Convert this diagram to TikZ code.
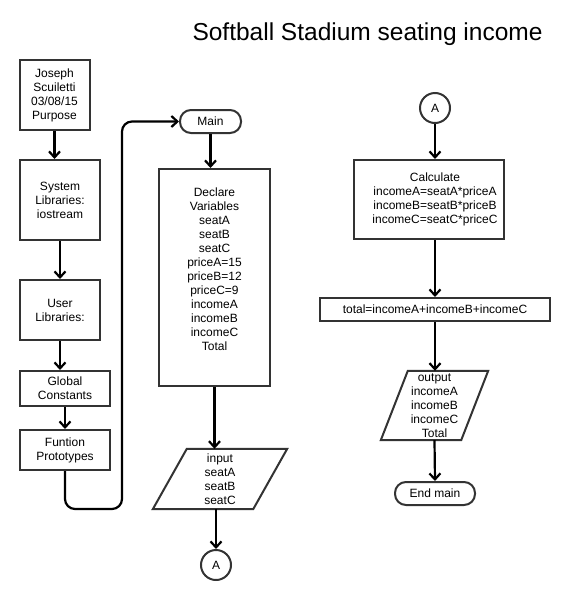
\documentclass[tikz,border=0pt]{standalone}
\usepackage{fontspec}
\setmainfont{Liberation Sans}
\usetikzlibrary{arrows.meta}
\definecolor{boxline}{HTML}{333333}
\begin{document}
\begin{tikzpicture}[x=1pt,y=-1pt,
  boxfont/.style={font=\fontsize{12}{14}\selectfont},
  procbox/.style={draw=boxline, line width=2pt, rectangle, inner sep=0pt, align=center, boxfont},
  termbox/.style={procbox, rounded corners=11pt},
  iotext/.style={rectangle, inner sep=0pt, align=center, boxfont},
  iobox/.style={draw=boxline, line width=2pt, line join=miter},
  connbox/.style={circle, draw=boxline, line width=2pt, minimum size=30pt, inner sep=0pt, boxfont},
  flow/.style={line width=2.2pt, -{Straight Barb[length=6pt,width=11pt]}}
]
\useasboundingbox (0,0) rectangle (583,600);

% title
\node[anchor=base, inner sep=0pt, font=\fontsize{24.5}{29}\selectfont] (title) at (367.5,40) {Softball Stadium seating income};

% left column
\node[procbox, minimum width=70pt, minimum height=70pt] (jos) at (54.5,95) {Joseph\\Scuiletti\\03/08/15\\Purpose};
\node[procbox, minimum width=80pt, minimum height=80pt] (sys) at (60,200) {System\\Libraries:\\iostream};
\node[procbox, minimum width=80pt, minimum height=60pt] (usr) at (60,310) {User\\Libraries:};
\node[procbox, minimum width=90pt, minimum height=35pt] (glob) at (65,388.5) {Global\\Constants};
\node[procbox, minimum width=90pt, minimum height=40pt] (fun) at (65,450) {Funtion\\Prototypes};

% middle column
\node[termbox, minimum width=61pt, minimum height=23pt] (main) at (210.5,121.5) {Main};
\node[procbox, minimum width=111pt, minimum height=217pt] (decl) at (214.5,277.5)
  {\begin{tabular}{@{}c@{}}Declare\\Variables\\seatA\\seatB\\seatC\\priceA=15\\priceB=12\\priceC=9\\incomeA\\incomeB\\incomeC\\Total\\[13pt]\end{tabular}};
\node[iotext, minimum width=100pt, minimum height=60pt] (inp) at (220,479) {input\\seatA\\seatB\\seatC};
\draw[iobox] ([xshift=17pt]inp.north west) -- ([xshift=17pt]inp.north east)
  -- ([xshift=-17pt]inp.south east) -- ([xshift=-17pt]inp.south west) -- cycle;
\node[connbox] (a1) at (216,565) {A};

% right column
\node[connbox] (a2) at (435,108) {A};
\node[procbox, minimum width=150pt, minimum height=79pt] (calc) at (429,199.5)
  {\begin{tabular}{@{\hspace{12pt}}c@{}}Calculate\\incomeA=seatA*priceA\\incomeB=seatB*priceB\\incomeC=seatC*priceC\end{tabular}};
\node[procbox, minimum width=230pt, minimum height=23pt] (total) at (435,309.5) {total=incomeA+incomeB+incomeC};
\node[iotext, minimum width=80pt, minimum height=69pt] (out) at (434.5,405.5) {output\\incomeA\\incomeB\\incomeC\\Total};
\draw[iobox] ([xshift=13.5pt]out.north west) -- ([xshift=13.5pt]out.north east)
  -- ([xshift=-13.5pt]out.south east) -- ([xshift=-13.5pt]out.south west) -- cycle;
\node[termbox, minimum width=80pt, minimum height=23pt] (endm) at (435,493.5) {End main};

% connectors
\draw[flow] (jos.south) -- (jos.south |- sys.north);
\draw[flow] (sys.south) -- (sys.south |- usr.north);
\draw[flow] (usr.south) -- (usr.south |- glob.north);
\draw[flow] (glob.south) -- (glob.south |- fun.north);
\coordinate (loopc) at (122,509);
\draw[flow, rounded corners=10pt] (fun.south) |- (loopc) |- (main.west);
\draw[flow] (main.south) -- (main.south |- decl.north);
\draw[flow] (decl.south) -- (decl.south |- inp.north);
\draw[flow] (a1.north |- inp.south) -- (a1.north);
\draw[flow] (a2.south) -- (a2.south |- calc.north);
\draw[flow] (total.north |- calc.south) -- (total.north);
\draw[flow] (total.south) -- (total.south |- out.north);
\draw[flow] (out.south) -- (endm.north);
\end{tikzpicture}
\end{document}
